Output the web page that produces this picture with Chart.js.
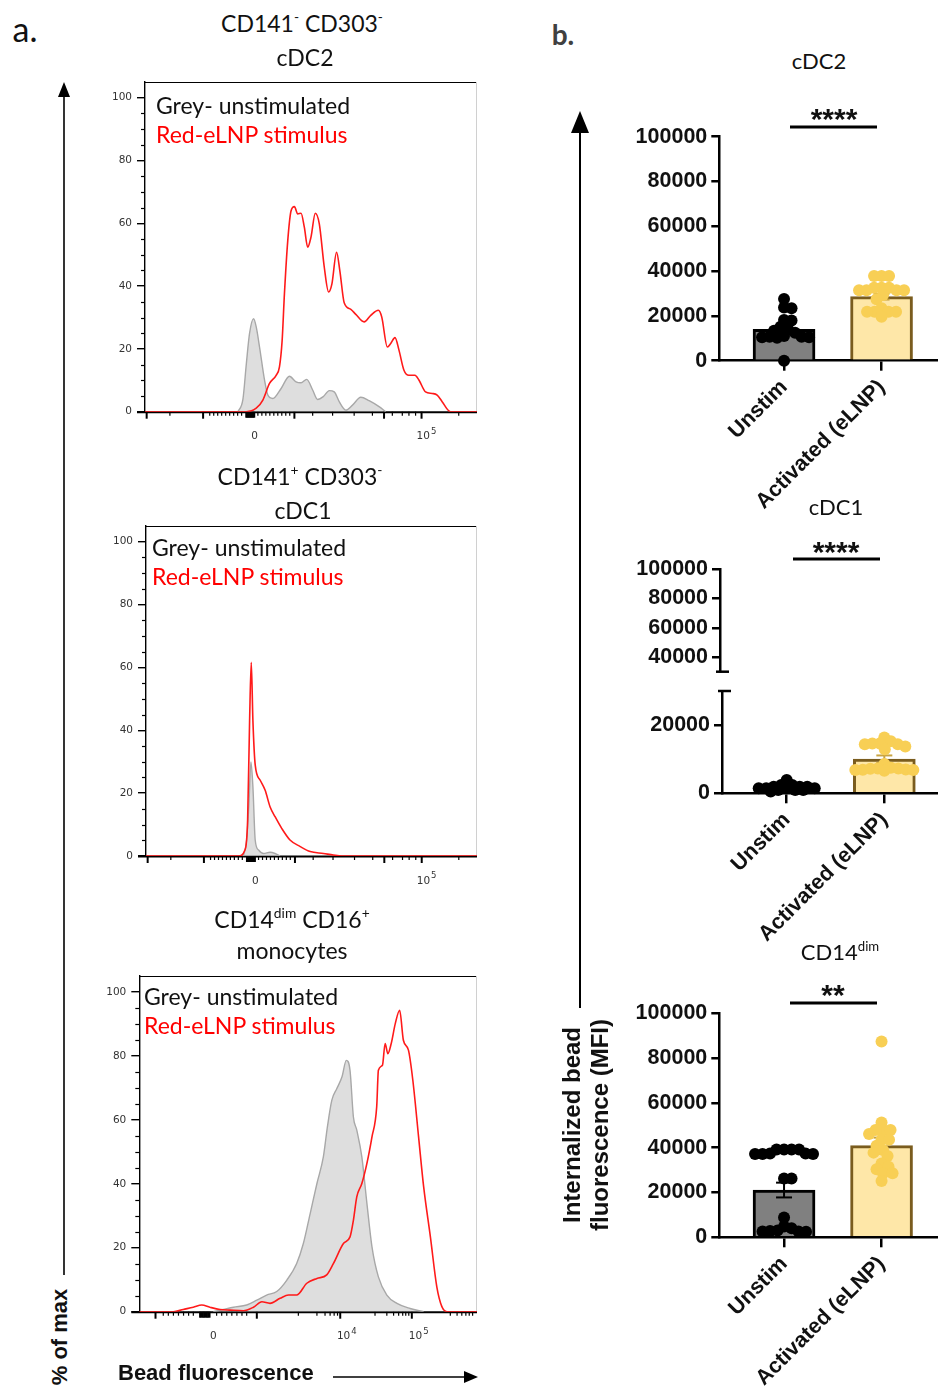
<!DOCTYPE html>
<html>
<head>
<meta charset="utf-8">
<title>Bead uptake by DC subsets</title>
<script src="https://cdn.jsdelivr.net/npm/chart.js@4.4.1/dist/chart.umd.min.js"></script>
<style>
  html, body { margin: 0; padding: 0; background: #fff; }
  body { position: relative; width: 938px; height: 1393px; overflow: hidden; font-family: Lato, sans-serif; color: #111; }
  canvas { position: absolute; }
  .t { position: absolute; white-space: nowrap; line-height: 1; }
  .c { transform: translate(-50%, -50%); }
  .l { transform: translateY(-50%); }
  .cal { font-family: Lato, sans-serif; font-size: 23px; }
  .arl { font-family: "Liberation Sans", Arial, sans-serif; font-weight: bold; }
  .red { color: #ff0000; }
  sup { font-size: 0.6em; vertical-align: 0; position: relative; top: -0.7em; }
  svg { position: absolute; left: 0; top: 0; }
</style>
</head>
<body>

<canvas id="h1" width="405" height="400" style="left:80px;top:70px"></canvas>
<canvas id="h2" width="405" height="400" style="left:80px;top:514px"></canvas>
<canvas id="h3" width="405" height="400" style="left:80px;top:964px"></canvas>

<canvas id="b1" width="340" height="440" style="left:610px;top:100px"></canvas>
<canvas id="b2top" width="340" height="150" style="left:610px;top:540px"></canvas>
<canvas id="b2" width="340" height="320" style="left:610px;top:640px"></canvas>
<canvas id="b3" width="340" height="413" style="left:610px;top:980px"></canvas>

<!-- panel a text -->
<div class="t c cal" style="left:25px;top:29px;font-size:34px">a.</div>
<div class="t c cal" style="left:302px;top:23px">CD141<sup>-</sup> CD303<sup>-</sup></div>
<div class="t c cal" style="left:305px;top:57px">cDC2</div>
<div class="t l cal" style="left:156px;top:105px">Grey- unstimulated</div>
<div class="t l cal red" style="left:156px;top:134px">Red-eLNP stimulus</div>

<div class="t c cal" style="left:300px;top:476px">CD141<sup>+</sup> CD303<sup>-</sup></div>
<div class="t c cal" style="left:303px;top:510px">cDC1</div>
<div class="t l cal" style="left:152px;top:547px">Grey- unstimulated</div>
<div class="t l cal red" style="left:152px;top:576px">Red-eLNP stimulus</div>

<div class="t c cal" style="left:292px;top:919px">CD14<sup>dim</sup> CD16<sup>+</sup></div>
<div class="t c cal" style="left:292px;top:950px">monocytes</div>
<div class="t l cal" style="left:144px;top:996px">Grey- unstimulated</div>
<div class="t l cal red" style="left:144px;top:1025px">Red-eLNP stimulus</div>

<div class="t arl" style="left:60px;top:1337px;font-size:22px;transform:translate(-50%,-50%) rotate(-90deg)">% of max</div>
<div class="t l arl" style="left:118px;top:1373px;font-size:22px">Bead fluorescence</div>

<!-- panel b text -->
<div class="t c cal" style="left:563px;top:34px;font-size:28px;font-weight:bold;color:#404040">b.</div>
<div class="t c cal" style="left:819px;top:61px;font-size:22px">cDC2</div>
<div class="t c arl" style="left:834px;top:119px;font-size:30px">****</div>
<div class="t c cal" style="left:836px;top:507px;font-size:22px">cDC1</div>
<div class="t c arl" style="left:836px;top:552px;font-size:30px">****</div>
<div class="t c cal" style="left:840px;top:952px;font-size:22px">CD14<sup>dim</sup></div>
<div class="t c arl" style="left:833px;top:995px;font-size:30px">**</div>
<div class="t arl" style="left:586px;top:1125px;font-size:24px;line-height:28px;text-align:center;transform:translate(-50%,-50%) rotate(-90deg)">Internalized bead<br>fluorescence (MFI)</div>

<svg width="938" height="1393">
  <g stroke="#000" stroke-width="1.6" fill="none">
    <line x1="64" y1="1275" x2="64" y2="94"/>
    <line x1="333" y1="1377" x2="466" y2="1377"/>
    <line x1="580" y1="1008" x2="580" y2="130" stroke-width="2"/>
  </g>
  <g fill="#000">
    <polygon points="64,82 58,97 70,97"/>
    <polygon points="478,1377 464,1371 464,1383"/>
    <polygon points="580,111 571,133 589,133"/>
  </g>
  <g stroke="#000" stroke-width="3">
    <line x1="790" y1="127" x2="877" y2="127"/>
    <line x1="793" y1="559" x2="880" y2="559"/>
    <line x1="790" y1="1003" x2="877" y2="1003"/>
  </g>
</svg>

<script>
// ---------- a. flow histograms: x in display channels (0-1000 across the plot), y in % of max
const cdc2GreyCh  = [280, 295, 305, 315, 327, 335, 345, 360, 370, 385, 410, 435, 455, 470, 487, 505, 520, 537, 555, 570, 585, 605, 625, 650, 675, 705, 725];
const cdc2GreyPct = [0, 4, 15, 25, 29.6, 27, 20.6, 10.1, 5.3, 4.2, 7.4, 11.3, 9.5, 9.2, 10.3, 6.9, 3.9, 4.8, 6.7, 6.3, 3.2, 0.5, 2.1, 4.6, 3.5, 1.6, 0];
const cdc2RedCh  = [0, 305, 335, 355, 375, 395, 405, 413, 420, 430, 440, 450, 460, 470, 480, 490, 500, 513, 525, 540, 553, 563, 577, 587, 600, 620, 635, 660, 680, 703, 713, 730, 740, 753, 765, 780, 795, 813, 825, 845, 865, 880, 895, 920, 1000];
const cdc2RedPct = [0, 0, 1.1, 3.7, 9.0, 11.6, 14.3, 22.6, 37.6, 54.5, 64.0, 65.3, 63.0, 63.2, 58.7, 52.4, 55.6, 63.2, 59.8, 46.0, 38.1, 40.7, 50.8, 44.8, 34.7, 32.6, 31.0, 28.6, 30.7, 32.3, 30.2, 20.6, 21.7, 23.6, 19.6, 13.2, 11.6, 11.6, 10.1, 6.3, 5.8, 5.3, 3.2, 0, 0];

const cdc1GreyCh  = [294, 304, 311, 317, 323, 330, 340, 355, 375, 390, 405];
const cdc1GreyPct = [0, 5, 16.7, 29.9, 22, 5, 1.9, 0.8, 1.2, 0.8, 0];
const cdc1RedCh  = [0, 279, 299, 307, 313, 318, 323, 330, 345, 360, 375, 390, 410, 435, 466, 496, 536, 566, 592, 1000];
const cdc1RedPct = [0, 0, 1.9, 11.4, 43, 61.6, 43, 28.9, 24.1, 20.9, 15.6, 12.5, 8.8, 5.1, 3, 1.4, 0.8, 0.3, 0, 0];

const monoGreyCh  = [219, 249, 279, 318, 348, 377, 407, 437, 466, 486, 506, 526, 545, 557, 570, 585, 600, 613, 624, 634, 644, 659, 674, 689, 708, 733, 763, 802, 842];
const monoGreyPct = [0, 0.7, 1.4, 2.1, 3.6, 5.2, 6.3, 9.9, 15.1, 21.4, 30.7, 40.1, 48.4, 57.8, 66.1, 69.8, 73.4, 78.6, 75.5, 60.9, 56.8, 48.4, 33.9, 20.3, 10.9, 5.2, 2.6, 1, 0];
const monoRedCh  = [0, 101, 130, 160, 185, 209, 239, 269, 308, 338, 363, 387, 417, 442, 466, 496, 526, 555, 575, 605, 624, 634, 644, 659, 674, 689, 703, 708, 720, 728, 736, 746, 758, 771, 782, 797, 810, 827, 842, 862, 881, 896, 911, 1000];
const monoRedPct = [0, 0, 0.7, 1.4, 2.1, 1.4, 0.7, 0.5, 0.3, 1.4, 3.1, 2.6, 4.2, 5.2, 5.2, 8.9, 10.4, 11.5, 15.1, 21.4, 23.4, 28.6, 35.9, 40.1, 46.4, 54.7, 64.1, 75.5, 77.1, 83.9, 80.7, 83.9, 90.1, 94.3, 84.9, 81.8, 72.4, 54.7, 39.1, 23.4, 7.8, 1.6, 0, 0];

const histYTicks = [0, 20, 40, 60, 80, 100];
const histYMinor = [5, 10, 15, 25, 30, 35, 45, 50, 55, 65, 70, 75, 85, 90, 95];

// biexponential axis marks, in channels
const dcMarks = {
  major: [5, 175, 450, 720, 833],
  minor: [75, 195, 207, 219, 231, 243, 255, 267, 279, 291, 340, 352, 364, 376, 388, 400, 412, 424, 436, 505, 565, 630, 685, 745, 775, 795, 815, 945],
  zero: [305, 308, 311, 314, 317, 320, 323, 326, 329],
  labels: [{ at: 330, text: '0' }, { at: 838, text: '10', exp: '5' }]
};
const monoMarks = {
  major: [48, 348, 595, 807],
  minor: [71, 86, 101, 116, 131, 146, 160, 229, 244, 259, 274, 289, 304, 318, 471, 526, 550, 565, 577, 587, 698, 733, 753, 768, 780, 789, 798, 921, 941, 955, 967, 977, 987],
  zero: [180, 184, 188, 192, 196, 200, 204, 208],
  labels: [{ at: 219, text: '0' }, { at: 605, text: '10', exp: '4' }, { at: 818, text: '10', exp: '5' }]
};

// ---------- b. internalized bead MFI per donor
const groups = ['Unstim', 'Activated (eLNP)'];
const mfiTicks = [0, 20000, 40000, 60000, 80000, 100000];
const cdc1LowTicks = [0, 20000];
const cdc1HighTicks = [40000, 60000, 80000, 100000];

const cdc2Unstim = [27500, 23800, 23400, 18200, 17900, 15200, 14000, 13400, 12500, 11000, 10700, 10700, 10500, 10500, 10200, 0];
const cdc2Act    = [37800, 37800, 37800, 32600, 32600, 32600, 31500, 31500, 31500, 31500, 29300, 27400, 23400, 21900, 21900, 21900, 21900, 19600];
const cdc2Mean = [14000, 28600];
const cdc2Sem  = [1900, 1300];

const cdc1Unstim = [3900, 2400, 2400, 1900, 1900, 1900, 1500, 1500, 1500, 1500, 1000, 1000, 1000, 500];
const cdc1Act    = [16400, 15300, 14600, 14600, 14400, 14400, 13700, 12900, 8600, 7500, 7300, 7300, 7200, 7000, 6900, 6800, 6800, 6600];
const cdc1Mean = [1700, 10000];
const cdc1Sem  = [250, 1100];

const monoUnstim = [39200, 39200, 37400, 37200, 37200, 37200, 37400, 39200, 39200, 26300, 26300, 8800, 4800, 4000, 3000, 2800, 2600, 2600, 2500];
const monoAct    = [87400, 51200, 47900, 47900, 47900, 46100, 43500, 43500, 40900, 39000, 37800, 36300, 33000, 31500, 30400, 28600, 28600, 25100];
const monoMean = [21100, 40900];
const monoSem  = [3300, 3600];

const boldFont = { family: 'Liberation Sans', weight: 'bold', size: 21.5 };

function pts(xs, ys) { return xs.map((x, i) => ({ x: x, y: ys[i] })); }
function seg(ctx, x1, y1, x2, y2) { ctx.beginPath(); ctx.moveTo(x1, y1); ctx.lineTo(x2, y2); ctx.stroke(); }

// frame, minor y ticks and the biex x axis of a histogram
function histFrame(marks) {
  return {
    id: 'histFrame',
    beforeDatasetsDraw(chart) {
      const { ctx, chartArea: a, scales: { x, y } } = chart;
      ctx.save();
      ctx.strokeStyle = '#000';
      ctx.lineWidth = 1;
      seg(ctx, a.left, a.top + 0.5, a.right, a.top + 0.5);
      ctx.strokeStyle = '#d0d0d0';
      seg(ctx, a.right - 0.5, a.top, a.right - 0.5, a.bottom);
      ctx.strokeStyle = '#000';
      ctx.lineWidth = 1.2;
      histYMinor.forEach(v => { const p = Math.round(y.getPixelForValue(v)) + 0.5; seg(ctx, a.left - 4, p, a.left, p); });
      ctx.lineWidth = 2;
      seg(ctx, a.left - 8, a.bottom + 0.5, a.right, a.bottom + 0.5);
      marks.major.forEach(c => { const p = x.getPixelForValue(c); seg(ctx, p, a.bottom, p, a.bottom + 7); });
      marks.zero.forEach(c => { const p = x.getPixelForValue(c); seg(ctx, p, a.bottom, p, a.bottom + 6); });
      ctx.lineWidth = 1.2;
      marks.minor.forEach(c => { const p = x.getPixelForValue(c); seg(ctx, p, a.bottom, p, a.bottom + 4); });
      ctx.fillStyle = '#333';
      ctx.textBaseline = 'middle';
      marks.labels.forEach(l => {
        const p = x.getPixelForValue(l.at);
        ctx.font = '10.5px "DejaVu Sans"';
        ctx.textAlign = 'center';
        ctx.fillText(l.text, p, a.bottom + 25);
        if (l.exp) {
          const w = ctx.measureText(l.text).width;
          ctx.font = '8.5px "DejaVu Sans"';
          ctx.textAlign = 'left';
          ctx.fillText(l.exp, p + w / 2 + 1, a.bottom + 20);
        }
      });
      ctx.restore();
    }
  };
}

function histogram(id, yw, pad, grey, red, marks) {
  return new Chart(document.getElementById(id), {
    type: 'line',
    data: {
      datasets: [
        { data: red, borderColor: '#ff1a1a', borderWidth: 1.6, pointRadius: 0, cubicInterpolationMode: 'monotone', fill: false },
        { data: grey, borderColor: '#a8a8a8', backgroundColor: 'rgba(195,195,195,0.55)', borderWidth: 1.4, pointRadius: 0, cubicInterpolationMode: 'monotone', fill: 'origin' }
      ]
    },
    options: {
      responsive: false, animation: false, events: [],
      layout: { padding: pad },
      plugins: { legend: { display: false }, tooltip: { enabled: false } },
      scales: {
        x: { type: 'linear', min: 0, max: 1000, display: false },
        y: {
          min: 0, max: 105,
          afterBuildTicks: s => { s.ticks = histYTicks.map(v => ({ value: v })); },
          afterFit: s => { s.width = yw; },
          ticks: { color: '#333', padding: 5, font: { family: 'DejaVu Sans', size: 10.5 } },
          grid: { drawOnChartArea: false, tickLength: 8, color: '#000', lineWidth: 1.4 },
          border: { color: '#000', width: 1.4 }
        }
      }
    },
    plugins: [histFrame(marks)]
  });
}

histogram('h1', 65, { left: 0, right: 8, top: 12, bottom: 58.3 }, pts(cdc2GreyCh, cdc2GreyPct), pts(cdc2RedCh, cdc2RedPct), dcMarks);
histogram('h2', 66, { left: 0, right: 8, top: 12, bottom: 58 }, pts(cdc1GreyCh, cdc1GreyPct), pts(cdc1RedCh, cdc1RedPct), dcMarks);
histogram('h3', 59.3, { left: 0, right: 8, top: 12, bottom: 52.3 }, pts(monoGreyCh, monoGreyPct), pts(monoRedCh, monoRedPct), monoMarks);

// ---------- bar + dot plots
function mfiY(min, max, ticks, width) {
  return {
    min: min, max: max,
    afterBuildTicks: s => { s.ticks = ticks.map(v => ({ value: v })); },
    afterFit: s => { s.width = width; },
    ticks: { color: '#111', padding: 4, font: boldFont, callback: v => String(v) },
    grid: { drawOnChartArea: false, tickLength: 8, color: '#000', lineWidth: 2.5 },
    border: { color: '#000', width: 2.5 }
  };
}

function errorBars(mean, sem) {
  return {
    id: 'errorBars',
    afterDatasetDraw(chart, args) {
      if (args.index !== 0) return;
      const { ctx, scales: { x, y } } = chart;
      ctx.save();
      ctx.lineWidth = 2;
      mean.forEach((m, i) => {
        const px = x.getPixelForValue(i);
        const hi = y.getPixelForValue(m + sem[i]);
        const lo = y.getPixelForValue(m - sem[i]);
        ctx.strokeStyle = i ? '#c9a441' : '#000';
        seg(ctx, px, hi, px, lo);
        seg(ctx, px - 8, hi, px + 8, hi);
        seg(ctx, px - 8, lo, px + 8, lo);
      });
      ctx.restore();
    }
  };
}

// short horizontal cap where the y axis is broken
function axisCap(v) {
  return {
    id: 'axisCap',
    afterDraw(chart) {
      if (v == null) return;
      const { ctx, chartArea: a, scales: { y } } = chart;
      const p = y.getPixelForValue(v);
      ctx.save();
      ctx.strokeStyle = '#000';
      ctx.lineWidth = 2.5;
      seg(ctx, a.left - 4, p, a.left + 9, p);
      ctx.restore();
    }
  };
}

// spread close values sideways (kept inside the bar) so the dots stay readable
function swarm(chart, di, cat, vals) {
  const { x, y } = chart.scales;
  const unit = x.getPixelForValue(1) - x.getPixelForValue(0);
  const half = 29, gap = 7.5;
  const placed = [];
  const out = vals.map(v => ({ x: cat, y: v }));
  vals.map((v, i) => i).sort((a, b) => vals[b] - vals[a]).forEach(i => {
    const py = y.getPixelForValue(vals[i]);
    let best = 0, bestD = -1;
    for (let k = 0; ; k++) {
      const c = (k % 2 ? 1 : -1) * Math.ceil(k / 2) * 0.5;
      if (Math.abs(c) > half) break;
      const d = placed.reduce((m, p) => Math.min(m, Math.hypot(p.dx - c, p.py - py)), Infinity);
      if (d >= gap) { best = c; break; }
      if (d > bestD) { bestD = d; best = c; }
    }
    placed.push({ dx: best, py: py });
    out[i].x = cat + best / unit;
  });
  chart.data.datasets[di].data = out;
}

function mfiChart(id, o) {
  const chart = new Chart(document.getElementById(id), {
    type: 'bar',
    data: {
      datasets: [
        { data: pts([0, 1], o.mean), backgroundColor: ['#808080', '#fee7a8'], borderColor: ['#000', '#7a5c1e'], borderWidth: 3, barThickness: 62, order: 2 },
        { type: 'scatter', data: pts(o.unstim.map(() => 0), o.unstim), pointBackgroundColor: '#000', pointBorderColor: '#000', pointRadius: 6, pointBorderWidth: 0, clip: false, order: 1 },
        { type: 'scatter', data: pts(o.act.map(() => 1), o.act), pointBackgroundColor: '#f8cf55', pointBorderColor: '#f8cf55', pointRadius: 6, pointBorderWidth: 0, clip: false, order: 0 }
      ]
    },
    options: {
      responsive: false, animation: false, events: [],
      layout: { padding: { left: 0, right: 12, top: o.padTop, bottom: 0 } },
      plugins: { legend: { display: false }, tooltip: { enabled: false } },
      scales: {
        x: {
          type: 'linear', min: o.xMin, max: o.xMax, offset: false,
          afterBuildTicks: s => { s.ticks = [0, 1].map(v => ({ value: v })); },
          afterFit: s => { s.height = o.xh; },
          ticks: { autoSkip: false, minRotation: 45, maxRotation: 45, padding: 4, color: '#111', font: boldFont, callback: v => groups[v] },
          grid: { offset: false, drawOnChartArea: false, tickLength: 10, color: '#000', lineWidth: 2.5 },
          border: { color: '#000', width: 2.5 }
        },
        y: mfiY(o.min, o.max, o.ticks, o.yw)
      }
    },
    plugins: [errorBars(o.mean, o.sem), axisCap(o.cap)]
  });
  swarm(chart, 1, 0, o.unstim);
  swarm(chart, 2, 1, o.act);
  chart.update('none');
  return chart;
}

mfiChart('b1', { padTop: 36.7, xh: 179.3, yw: 109.3, xMin: -0.664, xMax: 1.579, min: 0, max: 100000, ticks: mfiTicks,
  unstim: cdc2Unstim, act: cdc2Act, mean: cdc2Mean, sem: cdc2Sem });

// cDC1 uses a broken axis: upper segment only carries the axis
new Chart(document.getElementById('b2top'), {
  type: 'scatter',
  data: { datasets: [] },
  options: {
    responsive: false, animation: false, events: [],
    layout: { padding: { left: 0, right: 12, top: 29.3, bottom: 18.3 } },
    plugins: { legend: { display: false }, tooltip: { enabled: false } },
    scales: {
      x: { type: 'linear', min: 0, max: 1, display: false },
      y: mfiY(30000, 100000, cdc1HighTicks, 110)
    }
  },
  plugins: [axisCap(30000)]
});
mfiChart('b2', { padTop: 51, xh: 166.7, yw: 112, xMin: -0.663, xMax: 1.55, min: 0, max: 30000, ticks: cdc1LowTicks, cap: 30000,
  unstim: cdc1Unstim, act: cdc1Act, mean: cdc1Mean, sem: cdc1Sem });

mfiChart('b3', { padTop: 33.3, xh: 155.7, yw: 109.3, xMin: -0.664, xMax: 1.579, min: 0, max: 100000, ticks: mfiTicks,
  unstim: monoUnstim, act: monoAct, mean: monoMean, sem: monoSem });
</script>
</body>
</html>
